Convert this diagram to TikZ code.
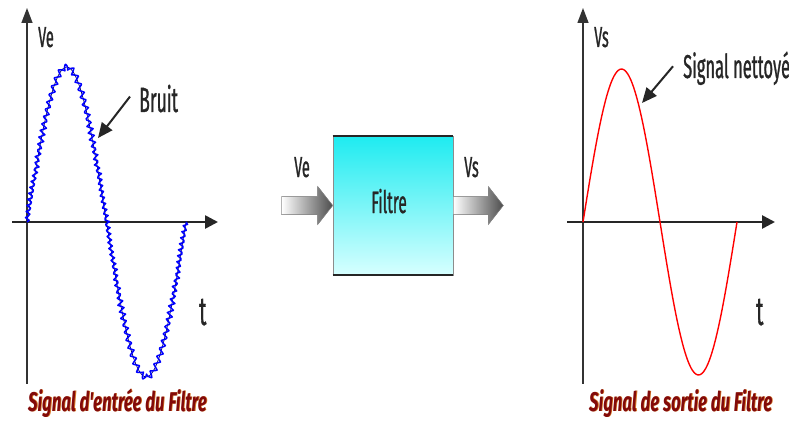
\documentclass[tikz,border=0pt]{standalone}
\usepackage{fontspec}
\setmainfont{Fira Sans}
\newfontfamily\cf{Fira Sans}[FakeStretch=0.5,FakeBold=0.8]
\newfontfamily\capf{Fira Sans}[FakeStretch=0.62]
\usetikzlibrary{arrows.meta,calc}
\definecolor{capred}{RGB}{130,10,10}
\definecolor{capglow}{RGB}{215,120,40}
\definecolor{cyantop}{RGB}{30,235,240}
\definecolor{cyanbot}{RGB}{215,255,255}
\tikzset{
  declare function={nl(\t)=sqrt(6.4+240.25*cos(\t)^2);
                    tri(\t)=asin(sin(60*mod(1.5917*\t+32.9*sin(2*\t),6)))/90;},
  xaxis/.style={line width=2.6pt,black!85,-{Triangle[length=13pt,width=13pt]}},
  yaxis/.style={line width=1.4pt,black!80,-{Triangle[length=15pt,width=11pt]}},
  lbl/.style={font=\cf\fontsize{29}{29}\selectfont,text=black!85,inner sep=0pt},
  biglbl/.style={font=\cf\fontsize{35}{35}\selectfont,text=black!85,inner sep=0pt},
  tlbl/.style={font=\cf\fontsize{40}{40}\selectfont,text=black!85,inner sep=0pt},
  pointer/.style={line width=2pt,black!85,-{Triangle[length=15pt,width=13pt]}},
  caption/.style={font=\capf\bfseries\itshape\fontsize{27}{27}\selectfont,inner sep=0pt},
  flowarrow/.style={left color=white,right color=black!70,draw=black!45,line width=0.5pt},
}
\begin{document}
\begin{tikzpicture}[x=1pt,y=-1pt]
\path[use as bounding box,fill=white] (0,0) rectangle (789,425);

% ---------- left graph ----------
\coordinate (LO) at (27,222);
\coordinate (Lytop) at (27,8);
\coordinate (Lybot) at (27,384);
\coordinate (Lxl) at (12,222);
\coordinate (Lxr) at (218,222);
\draw[line width=1.4pt,black!80] (LO) -- (Lybot);
\draw[yaxis] (LO) -- (Lytop);
\draw[xaxis] (Lxl) -- (Lxr);
\draw[blue!40!black,line width=0.7pt] plot[domain=0:360,samples=80,smooth] ({27+0.441667*\x},{222-155*sin(\x)});
\draw[blue,line width=1.5pt,line join=round]
  plot[domain=0:360,samples=481,variable=\t]
  ({27+0.441667*\t+3*tri(\t)*15.5*cos(\t)/nl(\t)},{222-155*sin(\t)+3*tri(\t)*2.53/nl(\t)});
\node[lbl,anchor=base west] (Ve1) at (38,47) {Ve};
\node[tlbl,anchor=base west] (t1) at (199,325) {t};
\node[biglbl,anchor=base west] (bruit) at (139,112) {Bruit};
\coordinate (bruittip) at (98,138);
\draw[pointer] ($(bruit.west)+(-9,-2)$) -- (bruittip);
\node[caption,text=capglow,anchor=base west] at (28.8,411.8) {Signal d'entrée du Filtre};
\node[caption,text=capred,anchor=base west] (cap1) at (28,411) {Signal d'entrée du Filtre};

% ---------- center block ----------
\node[minimum width=120pt,minimum height=139pt,inner sep=0pt,
      top color=cyantop,bottom color=cyanbot,draw=black!45,line width=0.6pt] (filtre) at (393,205.5) {};
\draw[line width=1.8pt,black!85] (filtre.north west) -- (filtre.north east);
\draw[line width=1.8pt,black!85] (filtre.south west) -- (filtre.south east);
\node[lbl,font=\cf\fontsize{31}{31}\selectfont,anchor=base] (ftxt) at (389,213) {Filtre};

\coordinate (inA) at ($(filtre.west)+(-51,0)$);
\fill[flowarrow] (inA) ++(0,-9) -- ($(filtre.west)+(-15,-9)$) -- ($(filtre.west)+(-15,-19)$)
  -- (filtre.west) -- ($(filtre.west)+(-15,19)$) -- ($(filtre.west)+(-15,9)$) -- ($(inA)+(0,9)$) -- cycle;
\coordinate (outA) at ($(filtre.east)+(50,0)$);
\fill[flowarrow] (filtre.east) ++(0,-9) -- ($(outA)+(-15,-9)$) -- ($(outA)+(-15,-19)$)
  -- (outA) -- ($(outA)+(-15,19)$) -- ($(outA)+(-15,9)$) -- ($(filtre.east)+(0,9)$) -- cycle;
\node[lbl,anchor=base west] (Vein) at (294,177) {Ve};
\node[lbl,anchor=base west] (Vsout) at (464,177) {Vs};

% ---------- right graph ----------
\coordinate (RO) at (583,222);
\coordinate (Rytop) at (583,8);
\coordinate (Rybot) at (583,384);
\coordinate (Rxl) at (567,222);
\coordinate (Rxr) at (775,222);
\draw[line width=1.4pt,black!80] (RO) -- (Rybot);
\draw[yaxis] (RO) -- (Rytop);
\draw[xaxis] (Rxl) -- (Rxr);
\draw[red,line width=1.4pt] plot[domain=0:360,samples=80,smooth] ({583+0.427778*\x},{222-153*sin(\x)});
\node[lbl,anchor=base west] (Vs1) at (594,47) {Vs};
\node[tlbl,anchor=base west] (t2) at (756,325) {t};
\node[biglbl,font=\cf\fontsize{33}{33}\selectfont,anchor=base west] (nett) at (683,78) {Signal nettoyé};
\coordinate (netttip) at (642,103);
\draw[pointer] ($(nett.west)+(-10,-2)$) -- (netttip);
\node[caption,text=capglow,anchor=base west] at (589.8,411.8) {Signal de sortie du Filtre};
\node[caption,text=capred,anchor=base west] (cap2) at (589,411) {Signal de sortie du Filtre};
\end{tikzpicture}
\end{document}
